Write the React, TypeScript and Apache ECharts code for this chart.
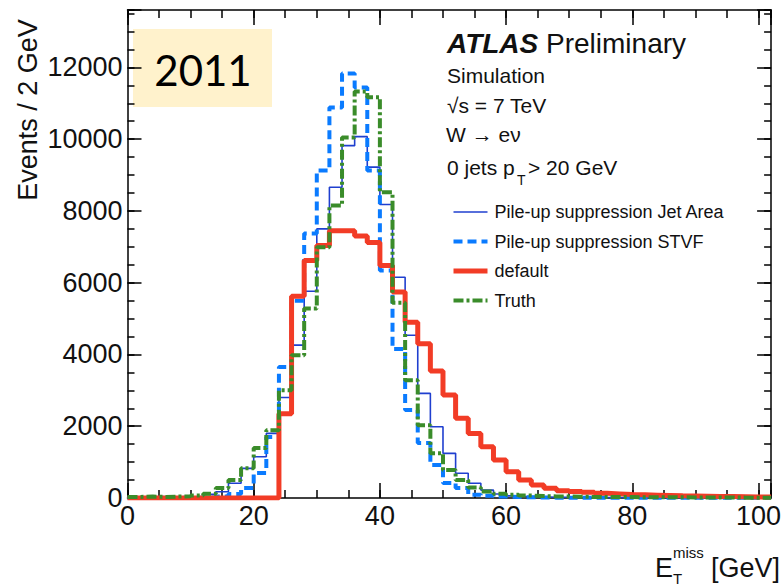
import React, { useEffect, useRef } from "react";
import * as echarts from "echarts";

// Histogram bins: 2 GeV wide, starting at 0 GeV (bin k covers [2k, 2k+2])
const binWidth = 2;

const jetArea = [
  0, 0, 10, 10, 10, 20, 100, 175, 410, 825,
  1150, 1800, 2800, 4260, 5760, 7500, 8660, 9820, 10070, 9220,
  8180, 6150, 4535, 2915, 1985, 1245, 690, 410, 220, 110,
  60, 40, 30, 20, 20, 15, 15, 10, 10, 10,
  10, 5, 5, 5, 5, 5, 5, 5, 5, 5, 5,
];

const stvf = [
  0, 0, 10, 0, 10, 10, 20, 40, 110, 280,
  700, 1700, 3650, 5500, 7370, 9130, 10880, 11830, 11440, 9130,
  6340, 4150, 2450, 1530, 920, 420, 280, 90, 60, 40,
  30, 20, 15, 10, 10, 10, 10, 10, 5, 5,
  5, 5, 5, 5, 5, 5, 5, 5, 5, 5, 5,
];

const defaultMet = [
  0, 0, 0, 0, 0, 0, 0, 0, 0, 0,
  0, 0, 2350, 5620, 6620, 7040, 7450, 7450, 7300, 7120,
  6480, 5740, 4900, 4300, 3540, 2870, 2220, 1800, 1430, 1060,
  730, 500, 360, 270, 205, 180, 160, 130, 115, 100,
  90, 80, 70, 60, 55, 50, 45, 40, 35, 30, 30,
];

const truth = [
  30, 40, 30, 40, 50, 70, 120, 280, 500, 830,
  1390, 1890, 3000, 3980, 5280, 6990, 8150, 10050, 11330, 11170,
  8520, 5440, 3280, 2030, 1250, 780, 500, 290, 180, 120,
  90, 70, 55, 45, 40, 35, 30, 30, 25, 25,
  20, 20, 20, 20, 15, 15, 15, 15, 10, 10, 10,
];

const seriesNames = [
  "Pile-up suppression Jet Area",
  "Pile-up suppression STVF",
  "default",
  "Truth",
];

const xTickLabels = [0, 20, 40, 60, 80, 100];
const yTickLabels = [0, 2000, 4000, 6000, 8000, 10000, 12000];

const FONT = "'Liberation Sans', Arial, Helvetica, sans-serif";
const TEXT = "#111111";

function toSteps(values: number[]) {
  const pts = values.map((v, i) => [i * binWidth, v]);
  pts.push([values.length * binWidth, values[values.length - 1]]);
  return pts;
}

export default function App() {
  const ref = useRef<HTMLDivElement>(null);

  useEffect(() => {
    if (!ref.current) return;
    const chart = echarts.init(ref.current, undefined, { renderer: "svg" });

    const axisLineStyle = { color: "#000", width: 1.5 };
    const xBase = {
      type: "value" as const,
      min: 0,
      max: 102,
      splitLine: { show: false },
    };
    const yBase = {
      type: "value" as const,
      min: 0,
      max: 13600,
      splitLine: { show: false },
    };

    const option: any = {
      animation: false,
      backgroundColor: "#ffffff",
      grid: { left: 127.5, right: 8, top: 10, bottom: 88, containLabel: false },
      xAxis: [
        {
          ...xBase,
          position: "bottom",
          interval: 5,
          axisLine: { show: true, onZero: false, lineStyle: axisLineStyle },
          axisTick: { inside: true, length: 8, lineStyle: axisLineStyle },
          axisLabel: {
            formatter: (v: number) => (xTickLabels.includes(v) ? String(v) : ""),
            fontSize: 27,
            fontFamily: FONT,
            color: TEXT,
            margin: 4,
          },
        },
        {
          ...xBase,
          position: "bottom",
          interval: 20,
          axisLine: { show: false, onZero: false },
          axisTick: { inside: true, length: 15, lineStyle: axisLineStyle },
          axisLabel: { show: false },
        },
        {
          ...xBase,
          position: "top",
          interval: 5,
          axisLine: { show: true, onZero: false, lineStyle: axisLineStyle },
          axisTick: { inside: true, length: 8, lineStyle: axisLineStyle },
          axisLabel: { show: false },
        },
        {
          ...xBase,
          position: "top",
          interval: 20,
          axisLine: { show: false, onZero: false },
          axisTick: { inside: true, length: 15, lineStyle: axisLineStyle },
          axisLabel: { show: false },
        },
      ],
      yAxis: [
        {
          ...yBase,
          position: "left",
          interval: 500,
          axisLine: { show: true, onZero: false, lineStyle: axisLineStyle },
          axisTick: { inside: true, length: 7, lineStyle: axisLineStyle },
          axisLabel: {
            formatter: (v: number) => (yTickLabels.includes(v) ? String(v) : ""),
            fontSize: 27,
            fontFamily: FONT,
            color: TEXT,
            margin: 5,
          },
        },
        {
          ...yBase,
          position: "left",
          interval: 2000,
          axisLine: { show: false, onZero: false },
          axisTick: { inside: true, length: 14, lineStyle: axisLineStyle },
          axisLabel: { show: false },
        },
        {
          ...yBase,
          position: "right",
          interval: 500,
          axisLine: { show: true, onZero: false, lineStyle: axisLineStyle },
          axisTick: { inside: true, length: 7, lineStyle: axisLineStyle },
          axisLabel: { show: false },
        },
        {
          ...yBase,
          position: "right",
          interval: 2000,
          axisLine: { show: false, onZero: false },
          axisTick: { inside: true, length: 14, lineStyle: axisLineStyle },
          axisLabel: { show: false },
        },
      ],
      legend: {
        orient: "vertical",
        left: 446,
        top: 198,
        itemWidth: 34,
        itemHeight: 14,
        itemGap: 11.5,
        itemStyle: { opacity: 0 },
        textStyle: { fontSize: 18, fontFamily: FONT, color: TEXT, padding: [0, 0, 0, 2] },
        lineStyle: { width: "inherit" },
        data: seriesNames,
      },
      series: [
        {
          name: seriesNames[0],
          type: "line",
          step: "end",
          symbol: "none",
          xAxisIndex: 0,
          yAxisIndex: 0,
          data: toSteps(jetArea),
          lineStyle: { color: "#1f3fcf", width: 1.6 },
          itemStyle: { color: "#1f3fcf" },
          z: 2,
        },
        {
          name: seriesNames[1],
          type: "line",
          step: "end",
          symbol: "none",
          xAxisIndex: 0,
          yAxisIndex: 0,
          data: toSteps(stvf),
          lineStyle: { color: "#0a7bff", width: 4, type: [9, 5] },
          itemStyle: { color: "#0a7bff" },
          z: 3,
        },
        {
          name: seriesNames[2],
          type: "line",
          step: "end",
          symbol: "none",
          xAxisIndex: 0,
          yAxisIndex: 0,
          data: toSteps(defaultMet),
          lineStyle: { color: "#f23c26", width: 5 },
          itemStyle: { color: "#f23c26" },
          z: 4,
        },
        {
          name: seriesNames[3],
          type: "line",
          step: "end",
          symbol: "none",
          xAxisIndex: 0,
          yAxisIndex: 0,
          data: toSteps(truth),
          lineStyle: { color: "#3a8c2a", width: 4, type: [10, 3, 3, 3] },
          itemStyle: { color: "#3a8c2a" },
          z: 5,
        },
      ],
      graphic: [
        {
          type: "rect",
          z: -1,
          shape: { x: 133, y: 29, width: 139, height: 78 },
          style: { fill: "#FFF2CC" },
        },
        {
          type: "text",
          x: 203,
          y: 70,
          style: {
            text: "2011",
            font: "42px Lato, 'Open Sans', sans-serif",
            fill: "#000",
            textAlign: "center",
            textVerticalAlign: "middle",
          },
        },
        {
          type: "text",
          x: 447,
          y: 43,
          style: {
            text: "{a|ATLAS} Preliminary",
            fontSize: 28,
            fontFamily: FONT,
            fill: TEXT,
            textVerticalAlign: "middle",
            rich: {
              a: { fontSize: 28, fontFamily: FONT, fontStyle: "italic", fontWeight: "bold", fill: TEXT },
            },
          },
        },
        {
          type: "text",
          x: 447,
          y: 75,
          style: { text: "Simulation", fontSize: 21, fontFamily: FONT, fill: TEXT, textVerticalAlign: "middle" },
        },
        {
          type: "text",
          x: 447,
          y: 105,
          style: { text: "√s = 7 TeV", fontSize: 21, fontFamily: FONT, fill: TEXT, textVerticalAlign: "middle" },
        },
        {
          type: "text",
          x: 446,
          y: 134,
          style: { text: "W → eν", fontSize: 21, fontFamily: FONT, fill: TEXT, textVerticalAlign: "middle" },
        },
        {
          type: "text",
          x: 447,
          y: 167,
          style: { text: "0 jets p", fontSize: 21, fontFamily: FONT, fill: TEXT, textVerticalAlign: "middle" },
        },
        {
          type: "text",
          x: 517,
          y: 180,
          style: { text: "T", fontSize: 14, fontFamily: FONT, fill: TEXT, textVerticalAlign: "middle" },
        },
        {
          type: "text",
          x: 528,
          y: 167,
          style: { text: "> 20 GeV", fontSize: 21, fontFamily: FONT, fill: TEXT, textVerticalAlign: "middle" },
        },
        {
          type: "text",
          x: 28,
          y: 110,
          rotation: Math.PI / 2,
          style: {
            text: "Events / 2 GeV",
            fontSize: 27,
            fontFamily: FONT,
            fill: TEXT,
            textAlign: "center",
            textVerticalAlign: "middle",
          },
        },
        {
          type: "text",
          x: 655,
          y: 568,
          style: { text: "E", fontSize: 27, fontFamily: FONT, fill: TEXT, textVerticalAlign: "middle" },
        },
        {
          type: "text",
          x: 673,
          y: 578,
          style: { text: "T", fontSize: 15, fontFamily: FONT, fill: TEXT, textVerticalAlign: "middle" },
        },
        {
          type: "text",
          x: 673,
          y: 552,
          style: { text: "miss", fontSize: 15, fontFamily: FONT, fill: TEXT, textVerticalAlign: "middle" },
        },
        {
          type: "text",
          x: 711,
          y: 568,
          style: { text: "[GeV]", fontSize: 27, fontFamily: FONT, fill: TEXT, textVerticalAlign: "middle" },
        },
      ],
    };

    chart.setOption(option);
    return () => chart.dispose();
  }, []);

  return (
    <div
      ref={ref}
      style={{ position: "fixed", left: 0, top: 0, width: 784, height: 586, background: "#fff" }}
    />
  );
}
